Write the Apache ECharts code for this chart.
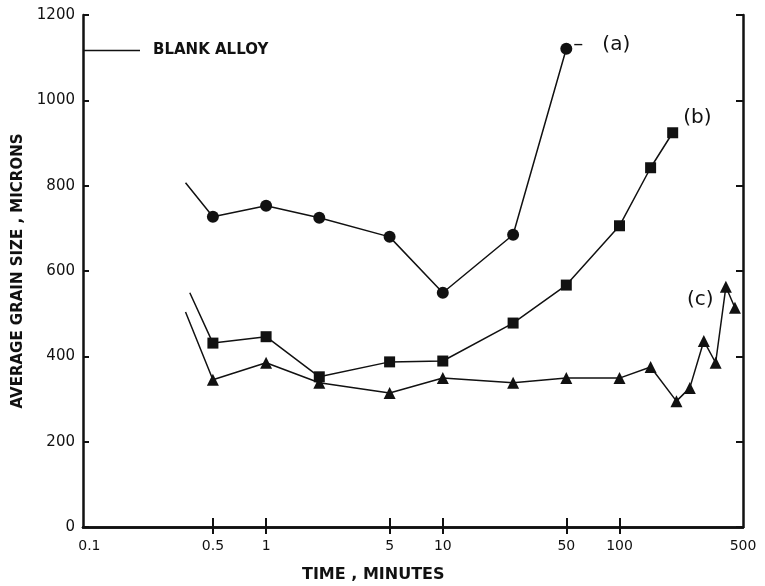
<!DOCTYPE html>
<html>
<head>
<meta charset="utf-8">
<script src="https://cdn.jsdelivr.net/npm/echarts@6/dist/echarts.min.js"></script>
<style>
  html, body { margin: 0; padding: 0; background: #fff; }
  #chart { width: 765px; height: 586px; }
</style>
</head>
<body>
<div id="chart"></div>
<script>
// time in minutes, grain size in microns (first point of each curve = blank alloy)
const timeA = [0.35, 0.5, 1, 2, 5, 10, 25, 50];
const sizeA = [807, 727, 753, 725, 680, 549, 685, 1121];

const timeB = [0.37, 0.5, 1, 2, 5, 10, 25, 50, 100, 150, 200];
const sizeB = [549, 431, 446, 352, 387, 389, 478, 567, 706, 842, 924];

const timeC = [0.35, 0.5, 1, 2, 5, 10, 25, 50, 100, 150, 210, 250, 300, 350, 400, 450];
const sizeC = [504, 345, 385, 338, 314, 349, 338, 349, 349, 375, 295, 326, 436, 385, 563, 514];

const xTickLabels = [0.1, 0.5, 1, 5, 10, 50, 100, 500];
const xTickMarks = [0.5, 1, 5, 10, 50, 100];

const ink = '#111';
const font = 'DejaVu Sans';

// 曲线数据：第一点为空白合金，不画符号
function makeData(times, sizes, labelIdx, labelText, labelOpt) {
  return times.map((t, i) => {
    const item = { value: [t, sizes[i]] };
    if (i === 0) item.symbol = 'none';
    if (i === labelIdx) {
      item.label = Object.assign({
        show: true,
        formatter: labelText,
        color: ink,
        fontFamily: font,
        fontSize: 20
      }, labelOpt);
    }
    return item;
  });
}

function curve(name, times, sizes, symbol, size, labelIdx, labelText, labelOpt) {
  return {
    name: name,
    type: 'line',
    symbol: symbol,
    symbolSize: size,
    showAllSymbol: true,
    color: ink,
    lineStyle: { color: ink, width: 1.5 },
    itemStyle: { color: ink },
    emphasis: { disabled: true },
    data: makeData(times, sizes, labelIdx, labelText, labelOpt),
    z: 3
  };
}

const chart = echarts.init(document.getElementById('chart'));

const axisLine = { show: true, lineStyle: { color: ink, width: 2.5 } };

const option = {
  backgroundColor: '#fff',
  animation: false,
  grid: { left: 83, right: 22, top: 15, bottom: 59 },
  title: {
    text: 'TIME , MINUTES',
    left: 302,
    top: 567,
    padding: 0,
    textStyle: { fontFamily: font, fontSize: 16, fontWeight: 'bold', color: ink }
  },
  legend: {
    left: 83,
    top: 43,
    padding: 0,
    selectedMode: false,
    itemWidth: 57,
    itemHeight: 1.5,
    data: [{ name: 'BLANK ALLOY', icon: 'rect' }],
    textStyle: { fontFamily: font, fontSize: 15, fontWeight: 'bold', color: ink, padding: [0, 0, 0, 8] }
  },
  xAxis: [
    {
      type: 'log',
      logBase: 10,
      min: 0.092,
      max: 500,
      position: 'bottom',
      axisLine: axisLine,
      axisTick: { show: true, inside: true, length: 9, customValues: xTickMarks, lineStyle: { color: ink, width: 2 } },
      axisLabel: {
        customValues: xTickLabels,
        formatter: v => String(+v.toPrecision(3)),
        margin: 12,
        fontFamily: font,
        fontSize: 14,
        color: ink
      },
      minorTick: { show: false },
      splitLine: { show: false }
    },
    {
      type: 'log',
      logBase: 10,
      min: 0.092,
      max: 500,
      position: 'top',
      axisLine: axisLine,
      axisTick: { show: true, inside: true, length: 7, customValues: xTickMarks, lineStyle: { color: ink, width: 2 } },
      axisLabel: { show: false },
      minorTick: { show: false },
      splitLine: { show: false }
    }
  ],
  yAxis: [
    {
      type: 'value',
      min: 0,
      max: 1200,
      interval: 200,
      position: 'left',
      name: 'AVERAGE GRAIN SIZE , MICRONS',
      nameLocation: 'middle',
      nameGap: 52,
      nameTextStyle: { fontFamily: font, fontSize: 15, fontWeight: 'bold', color: ink },
      axisLine: axisLine,
      axisTick: { show: true, inside: true, length: 6, lineStyle: { color: ink, width: 2 } },
      axisLabel: { margin: 8, fontFamily: font, fontSize: 15, color: ink, formatter: v => String(v) },
      splitLine: { show: false }
    },
    {
      type: 'value',
      min: 0,
      max: 1200,
      interval: 200,
      position: 'right',
      axisLine: axisLine,
      axisTick: { show: true, inside: true, length: 7, lineStyle: { color: ink, width: 2 } },
      axisLabel: { show: false },
      splitLine: { show: false }
    }
  ],
  series: [
    { name: 'BLANK ALLOY', type: 'line', color: ink, data: [] },
    curve('(a)', timeA, sizeA, 'circle', 12, timeA.length - 1, '–   (a)', { position: [13, -8] }),
    curve('(b)', timeB, sizeB, 'rect', 11, timeB.length - 1, '(b)', { position: [16, -19] }),
    curve('(c)', timeC, sizeC, 'triangle', 12, 14, '(c)', { position: [-33, 9] })
  ]
};

chart.setOption(option);
</script>
</body>
</html>
